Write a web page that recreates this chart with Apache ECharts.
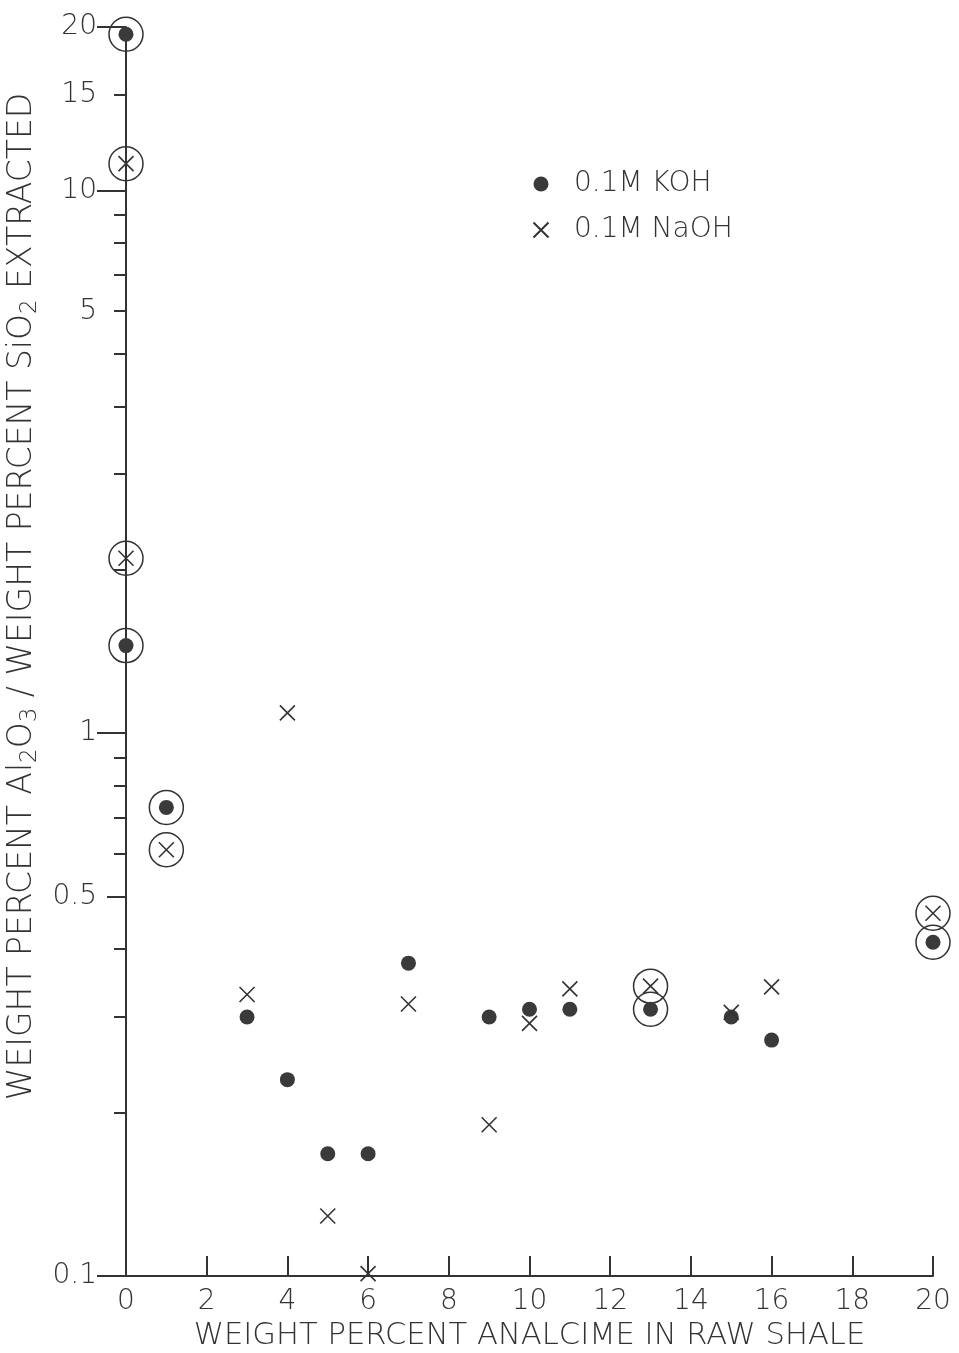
<!DOCTYPE html>
<html>
<head>
<meta charset="utf-8">
<script src="https://cdn.jsdelivr.net/npm/echarts@6/dist/echarts.min.js"></script>
<style>
  html, body { margin: 0; padding: 0; background: #ffffff; }
  #chart { width: 959px; height: 1353px; }
</style>
</head>
<body>
<div id="chart"></div>
<script>
// ---- data ----
const kohAnalcime  = [0, 0, 1, 3, 4, 5, 6, 7, 9, 10, 11, 13, 15, 16, 20];
const kohRatio     = [19.4, 1.45, 0.73, 0.30, 0.23, 0.168, 0.168, 0.377, 0.30, 0.31, 0.31, 0.31, 0.30, 0.272, 0.412];
const kohCircled   = [0, 1, 2, 11, 14];

const naohAnalcime = [0, 0, 1, 3, 4, 5, 6, 7, 9, 10, 11, 13, 15, 16, 20];
const naohRatio    = [11.2, 2.1, 0.61, 0.33, 1.09, 0.129, 0.101, 0.317, 0.19, 0.292, 0.338, 0.342, 0.306, 0.341, 0.466];
const naohCircled  = [0, 1, 2, 11, 14];

const yTickValues   = [0.1, 0.2, 0.3, 0.4, 0.5, 0.6, 0.7, 0.8, 0.9, 1, 2, 3, 4, 5, 6, 7, 8, 9, 10, 15, 20];
const yLongTicks    = [0.1, 1, 10, 20];
const yMediumTicks  = [0.5];
const yLabelValues  = [0.1, 0.5, 1, 5, 10, 15, 20];

const seriesNames = ['0.1M KOH', '0.1M NaOH'];
const xTitle = 'WEIGHT PERCENT ANALCIME IN RAW SHALE';
const yTitle = 'WEIGHT PERCENT Al{sub|2}O{sub|3} / WEIGHT PERCENT SiO{sub|2} EXTRACTED';

// ---- build ----
const ink = '#333333';
const font = 'DejaVu Sans';
const kohData = kohAnalcime.map((x, i) => [x, kohRatio[i]]);
const naohData = naohAnalcime.map((x, i) => [x, naohRatio[i]]);
const circledData = kohCircled.map(i => kohData[i]).concat(naohCircled.map(i => naohData[i]));

function tickAxis(values, length) {
  return {
    type: 'log', logBase: 10, min: 0.1, max: 20, position: 'left', offset: 0,
    axisLine: { show: false },
    axisTick: { show: true, inside: false, length: length, customValues: values,
                lineStyle: { color: ink, width: 2 } },
    axisLabel: { show: false },
    splitLine: { show: false }
  };
}

const chart = echarts.init(document.getElementById('chart'), null, { renderer: 'canvas' });
chart.setOption({
  backgroundColor: '#ffffff',
  animation: false,
  textStyle: { fontFamily: font, color: ink },
  grid: { left: 126, right: 26, top: 27, bottom: 77, containLabel: false, outerBoundsMode: 'none' },
  legend: {
    data: seriesNames,
    orient: 'vertical',
    left: 526, top: 164,
    itemWidth: 56, itemHeight: 15, itemGap: 16,
    textStyle: { fontFamily: font, fontSize: 28, fontWeight: 200, color: ink, lineHeight: 30 }
  },
  xAxis: {
    type: 'value', min: 0, max: 20, interval: 2,
    name: xTitle, nameLocation: 'middle', nameGap: 45,
    nameTextStyle: { fontFamily: font, fontSize: 30.6, fontWeight: 200, color: ink },
    axisLine: { show: true, lineStyle: { color: ink, width: 2 } },
    axisTick: { show: true, inside: true, length: 20, lineStyle: { color: ink, width: 2 } },
    axisLabel: { show: true, margin: 12, fontSize: 28, fontWeight: 200, color: ink, fontFamily: font },
    splitLine: { show: false }
  },
  yAxis: [
    {
      type: 'log', logBase: 10, min: 0.1, max: 20, position: 'left',
      name: yTitle, nameLocation: 'middle', nameGap: 82, nameRotate: 90,
      nameTextStyle: {
        fontFamily: font, fontSize: 33, fontWeight: 200, color: ink, lineHeight: 38,
        padding: [0, 0, 0, 110],
        rich: { sub: { fontFamily: font, fontSize: 23, fontWeight: 200, color: ink, verticalAlign: 'bottom', lineHeight: 38 } }
      },
      axisLine: { show: true, lineStyle: { color: ink, width: 2 } },
      axisTick: { show: true, inside: false, length: 12, customValues: yTickValues,
                  lineStyle: { color: ink, width: 2 } },
      axisLabel: {
        show: true, margin: 29, fontSize: 28, fontWeight: 200, color: ink, fontFamily: font,
        customValues: yLabelValues,
        formatter: function (v) { return v === 5 ? '{up|5}' : String(v); },
        rich: { up: { fontFamily: font, fontSize: 28, fontWeight: 200, color: ink, padding: [0, 0, 84, 0] } }
      },
      splitLine: { show: false }
    },
    tickAxis(yLongTicks, 29),
    tickAxis(yMediumTicks, 19)
  ],
  series: [
    {
      name: seriesNames[0], type: 'scatter', data: kohData,
      symbol: 'circle', symbolSize: 15,
      itemStyle: { color: '#3a3a3a', opacity: 1 }, z: 3
    },
    {
      name: seriesNames[1], type: 'scatter', data: naohData,
      symbol: 'path://M0,0L10,10M10,0L0,10', symbolSize: 15,
      itemStyle: { color: 'none', borderColor: ink, borderWidth: 1.6, opacity: 1 }, z: 3
    },
    {
      name: 'circled', type: 'scatter', data: circledData,
      symbol: 'circle', symbolSize: 34,
      itemStyle: { color: 'rgba(0,0,0,0)', borderColor: ink, borderWidth: 1.5, opacity: 1 },
      z: 2, silent: true
    }
  ]
});
</script>
</body>
</html>
